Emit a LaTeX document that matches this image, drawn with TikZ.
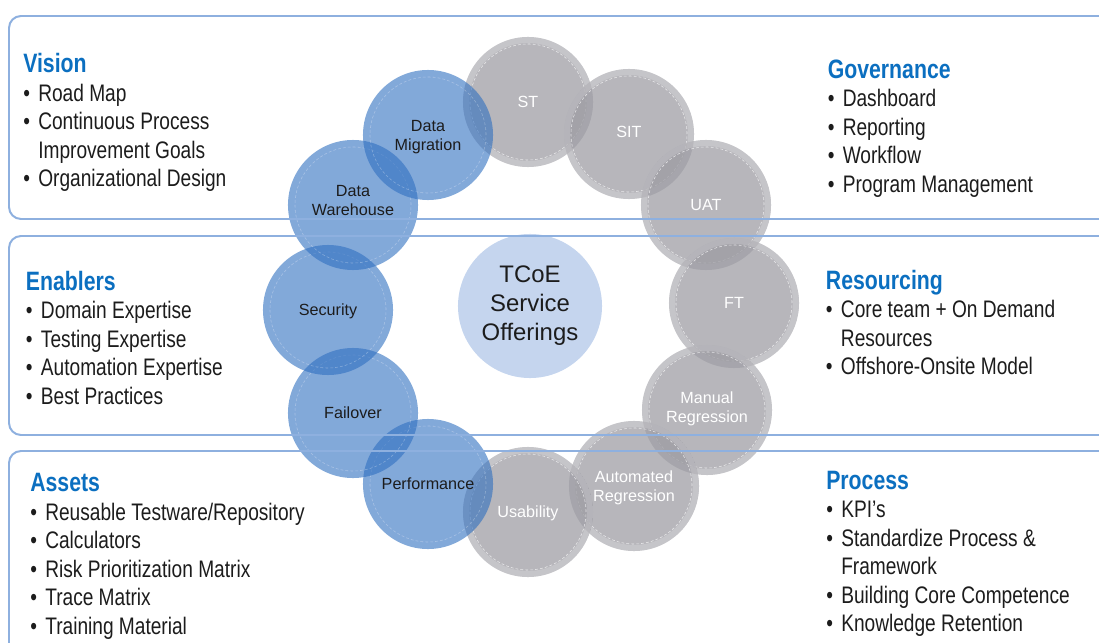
\documentclass[tikz,border=0pt]{standalone}
\usepackage{fontspec}
\setmainfont{Liberation Sans}
\newfontfamily\narrowsans{Liberation Sans}[FakeStretch=0.8]
\usepackage{xcolor}
\usepackage{tikz}
\usetikzlibrary{positioning,calc}
\definecolor{HeadBlue}{HTML}{0B6FC0}
\definecolor{FrameBlue}{HTML}{8EB0DF}
\definecolor{BallBlue}{HTML}{2F6FC0}
\definecolor{BallGrey}{HTML}{9B9AA1}
\definecolor{HubBlue}{HTML}{C5D5EE}
\definecolor{InkDark}{HTML}{1C1C1C}

% heading row and bullet list of one panel
\newcommand{\panelhead}[1]{\multicolumn{2}{@{}l@{}}{\fontsize{18.9}{20.3}\selectfont\bfseries\color{HeadBlue}#1}}
\newenvironment{panellist}{\begin{tabular}[t]{@{}l@{\hspace{5.9pt}}l@{}}}{\end{tabular}}

\begin{document}
\begin{tikzpicture}[
  x=0.025cm, y=-0.025cm,
  frame/.style={draw=FrameBlue,line width=1.4pt,rounded corners=0.3cm},
  infobox/.style={anchor=base west,inner sep=0pt,text=InkDark,
    font={\narrowsans\fontsize{17}{20.3}\selectfont}},
  ball/.style={circle,minimum size=3.25cm,inner sep=0pt,align=center,
    font={\fontsize{11.5}{13.5}\selectfont}},
  blueball/.style={ball,fill=BallBlue,fill opacity=0.6,text=InkDark,
    path picture={\draw[white,draw opacity=0.3,dash pattern=on 2pt off 1.5pt,line width=0.4pt]
      (path picture bounding box.center) circle (1.45cm);},
    text opacity=1},
  greyball/.style={ball,fill=BallGrey,fill opacity=0.72,text=white,
    path picture={
      \draw[white,draw opacity=0.2,line width=0.15cm] (path picture bounding box.center) circle (1.55cm);
      \draw[white,draw opacity=0.7,dash pattern=on 2pt off 1.5pt,line width=0.4pt]
        (path picture bounding box.center) circle (1.45cm);},
    text opacity=1},
  hub/.style={circle,fill=HubBlue,minimum size=3.6cm,inner sep=0pt,align=center,
    text=InkDark,font={\fontsize{17}{20.6}\selectfont}}
]
  \useasboundingbox (0,0) rectangle (1099,643);

  \node[hub] (hub) at (530,306) {TCoE\\Service\\Offerings};

  % ring of service balls, clockwise from the top
  \foreach \x/\y/\name/\txt/\kind/\lift in {
      528/102/st/ST/greyball/0pt, 629/134/sit/SIT/greyball/0.1cm,
      706/205/uat/UAT/greyball/0pt, 734/303/ft/FT/greyball/0pt,
      707/410/manreg/{Manual\\Regression}/greyball/0.15cm,
      634/486/autoreg/{Automated\\Regression}/greyball/0pt,
      528/512/usab/Usability/greyball/0pt, 428/484/perf/Performance/blueball/0pt,
      353/413/failover/Failover/blueball/0pt, 328/310/security/Security/blueball/0pt,
      353/205/dwh/{Data\\Warehouse}/blueball/0.25cm, 428/135/dmig/{Data\\Migration}/blueball/0pt}
    \node[\kind,text depth=\lift] (\name) at (\x,\y) {\txt};

  % left column
  \node[infobox] (vision) at (23,72.7) {\begin{panellist}
    \panelhead{Vision}\\
    \textbullet & Road Map\\
    \textbullet & Continuous Process\\
                & Improvement Goals\\
    \textbullet & Organizational Design
  \end{panellist}};
  \node[infobox] (enablers) at (25.7,290) {\begin{panellist}
    \panelhead{Enablers}\\
    \textbullet & Domain Expertise\\
    \textbullet & Testing Expertise\\
    \textbullet & Automation Expertise\\
    \textbullet & Best Practices
  \end{panellist}};
  \node[infobox] (assets) at (30,491.7) {\begin{panellist}
    \panelhead{Assets}\\
    \textbullet & Reusable Testware/Repository\\
    \textbullet & Calculators\\
    \textbullet & Risk Prioritization Matrix\\
    \textbullet & Trace Matrix\\
    \textbullet & Training Material
  \end{panellist}};

  % right column
  \node[infobox] (governance) at (827.5,78.3) {\begin{panellist}
    \panelhead{Governance}\\
    \textbullet & Dashboard\\
    \textbullet & Reporting\\
    \textbullet & Workflow\\
    \textbullet & Program Management
  \end{panellist}};
  \node[infobox] (resourcing) at (825.7,289.3) {\begin{panellist}
    \panelhead{Resourcing}\\
    \textbullet & Core team + On Demand\\
                & Resources\\
    \textbullet & Offshore-Onsite Model
  \end{panellist}};
  \node[infobox] (process) at (826,489) {\begin{panellist}
    \panelhead{Process}\\
    \textbullet & KPI’s\\
    \textbullet & Standardize Process \&\\
                & Framework\\
    \textbullet & Building Core Competence\\
    \textbullet & Knowledge Retention
  \end{panellist}};

  % panel frames, open to the right
  \draw[frame] (9,16) rectangle (1130,219);
  \draw[frame] (9,236) rectangle (1130,435);
  \draw[frame] (9,451) rectangle (1130,670);
\end{tikzpicture}
\end{document}
